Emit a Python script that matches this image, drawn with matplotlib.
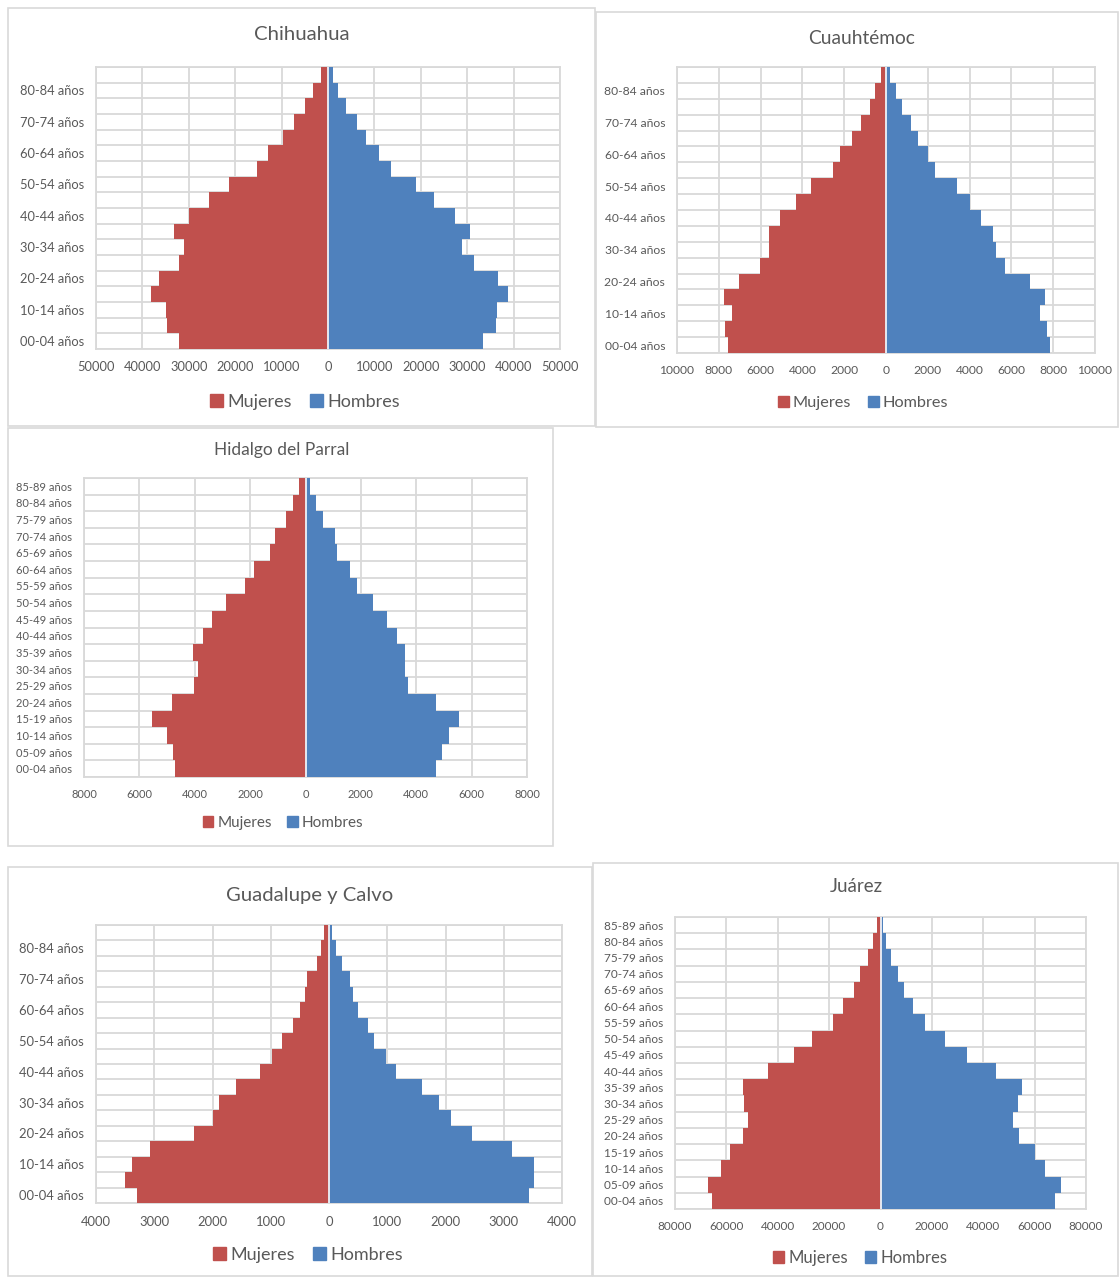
import matplotlib
matplotlib.use("Agg")
import matplotlib.pyplot as plt
import numpy as np
from matplotlib.patches import Rectangle, Patch
from matplotlib.ticker import FuncFormatter

plt.rcParams['font.family'] = ['Lato', 'DejaVu Sans']

# age groups, bottom to top
grupos = ['00-04 años', '05-09 años', '10-14 años', '15-19 años', '20-24 años',
          '25-29 años', '30-34 años', '35-39 años', '40-44 años', '45-49 años',
          '50-54 años', '55-59 años', '60-64 años', '65-69 años', '70-74 años',
          '75-79 años', '80-84 años', '85-89 años']

# values (00-04 first)
chih_muj = [32100, 34600, 35000, 38100, 36400, 32100, 31000, 33100, 29900,
            25600, 21400, 15400, 12900, 9700, 7250, 4860, 3200, 1500]
chih_hom = [33400, 36100, 36400, 38900, 36600, 31400, 28900, 30700, 27300,
            22800, 18900, 13600, 11000, 8100, 6300, 3900, 2200, 1100]

cuau_muj = [7560, 7700, 7350, 7760, 7040, 6020, 5580, 5580, 5060,
            4330, 3580, 2520, 2200, 1630, 1200, 750, 510, 240]
cuau_hom = [7860, 7680, 7380, 7600, 6870, 5700, 5270, 5130, 4550,
            4000, 3420, 2360, 2000, 1550, 1180, 770, 480, 190]

parr_muj = [4720, 4770, 5000, 5530, 4810, 4010, 3900, 4060, 3720,
            3390, 2860, 2180, 1860, 1300, 1110, 700, 460, 230]
parr_hom = [4730, 4940, 5190, 5530, 4700, 3720, 3600, 3580, 3310,
            2950, 2450, 1860, 1590, 1150, 1080, 620, 370, 170]

guad_muj = [3300, 3500, 3375, 3065, 2320, 2000, 1880, 1605, 1190,
            980, 810, 610, 505, 415, 375, 210, 130, 86]
guad_hom = [3430, 3520, 3520, 3140, 2460, 2100, 1880, 1600, 1150,
            970, 780, 670, 505, 410, 360, 225, 120, 50]

juar_muj = [65700, 67150, 61900, 58600, 53600, 51500, 53000, 53600, 43700,
            33600, 26750, 18600, 14700, 10500, 7870, 4720, 2890, 1440]
juar_hom = [67900, 70200, 64100, 60100, 54000, 51400, 53400, 55200, 44850,
            33600, 25300, 17200, 12600, 9180, 6690, 3930, 2230, 1050]

W, H = 1119, 1277
ROJO = '#C0504D'
AZUL = '#4F81BD'
GRIS = '#D9D9D9'
TEXTO = '#595959'

fig = plt.figure(figsize=(W / 100, H / 100), dpi=100)


def fx(px):
    return px / W


def fy(py):
    return 1 - py / H


def panel(titulo, muj, hom, xmax, paso, cada, caja, area, pos_tit, pos_ley,
          fs_tick, fs_tit, fs_ley):
    # panel border
    x0, y0, x1, y1 = caja
    fig.patches.append(Rectangle((fx(x0), fy(y1)), fx(x1 - x0), (y1 - y0) / H,
                                 transform=fig.transFigure, fill=False,
                                 edgecolor=GRIS, linewidth=1.2))
    a0, b0, a1, b1 = area
    ax = fig.add_axes([fx(a0), fy(b1), fx(a1 - a0), (b1 - b0) / H])
    y = np.arange(len(grupos))
    ax.barh(y, -np.array(muj), height=1.0, color=ROJO, zorder=3)
    ax.barh(y, hom, height=1.0, color=AZUL, zorder=3)
    ax.axvline(0, color='#EEF2F8', linewidth=1.3, zorder=4)
    ax.set_xlim(-xmax, xmax)
    ax.set_ylim(-0.5, len(grupos) - 0.5)
    ticks = np.arange(-xmax, xmax + paso, paso)
    ax.set_xticks(ticks)
    ax.xaxis.set_major_formatter(FuncFormatter(lambda v, p: f'{abs(v):.0f}'))
    for t in ticks:
        ax.axvline(t, color=GRIS, linewidth=1.3, zorder=1)
    for b in np.arange(-0.5, len(grupos), 1.0):
        ax.axhline(b, color=GRIS, linewidth=1.3, zorder=1)
    ax.set_yticks(y[::cada])
    ax.set_yticklabels(grupos[::cada])
    ax.tick_params(length=0, colors=TEXTO, labelsize=fs_tick)
    ax.tick_params(axis='x', pad=9)
    ax.tick_params(axis='y', pad=8.5)
    for s in ax.spines.values():
        s.set_color(GRIS)
        s.set_linewidth(1.3)
    fig.text(fx(pos_tit[0]), fy(pos_tit[1]), titulo, ha='center', va='center',
             fontsize=fs_tit, color=TEXTO)
    manejadores = [Patch(color=ROJO, label='Mujeres'), Patch(color=AZUL, label='Hombres')]
    fig.legend(handles=manejadores, loc='center', ncol=2, frameon=False,
               bbox_to_anchor=(fx(pos_ley[0]), fy(pos_ley[1])),
               fontsize=fs_ley, labelcolor=TEXTO, handlelength=0.7, handleheight=0.7,
               handletextpad=0.25, columnspacing=1.0)
    return ax


panel('Chihuahua', chih_muj, chih_hom, 50000, 10000, 2,
      (8, 8, 595, 426), (96, 67, 560, 349), (302, 35), (305, 402), 9.3, 14.7, 13)
panel('Cuauhtémoc', cuau_muj, cuau_hom, 10000, 2000, 2,
      (596, 12, 1118, 427), (677, 67, 1095, 353), (862, 38), (863, 403), 8.7, 13.8, 11.7)
panel('Hidalgo del Parral', parr_muj, parr_hom, 8000, 2000, 1,
      (8, 428, 553, 846), (84, 478, 527, 777), (282, 450), (283, 823), 8, 12.5, 11)
panel('Guadalupe y Calvo', guad_muj, guad_hom, 4000, 1000, 2,
      (8, 867, 592, 1276), (96, 925, 562, 1203), (310, 896), (308, 1255), 9.4, 14.6, 13)
panel('Juárez', juar_muj, juar_hom, 80000, 20000, 1,
      (593, 863, 1118, 1276), (675, 917, 1086, 1209), (856, 887), (860, 1258), 8.5, 13.5, 12)

fig.savefig('out.png', dpi=100, facecolor='white')
